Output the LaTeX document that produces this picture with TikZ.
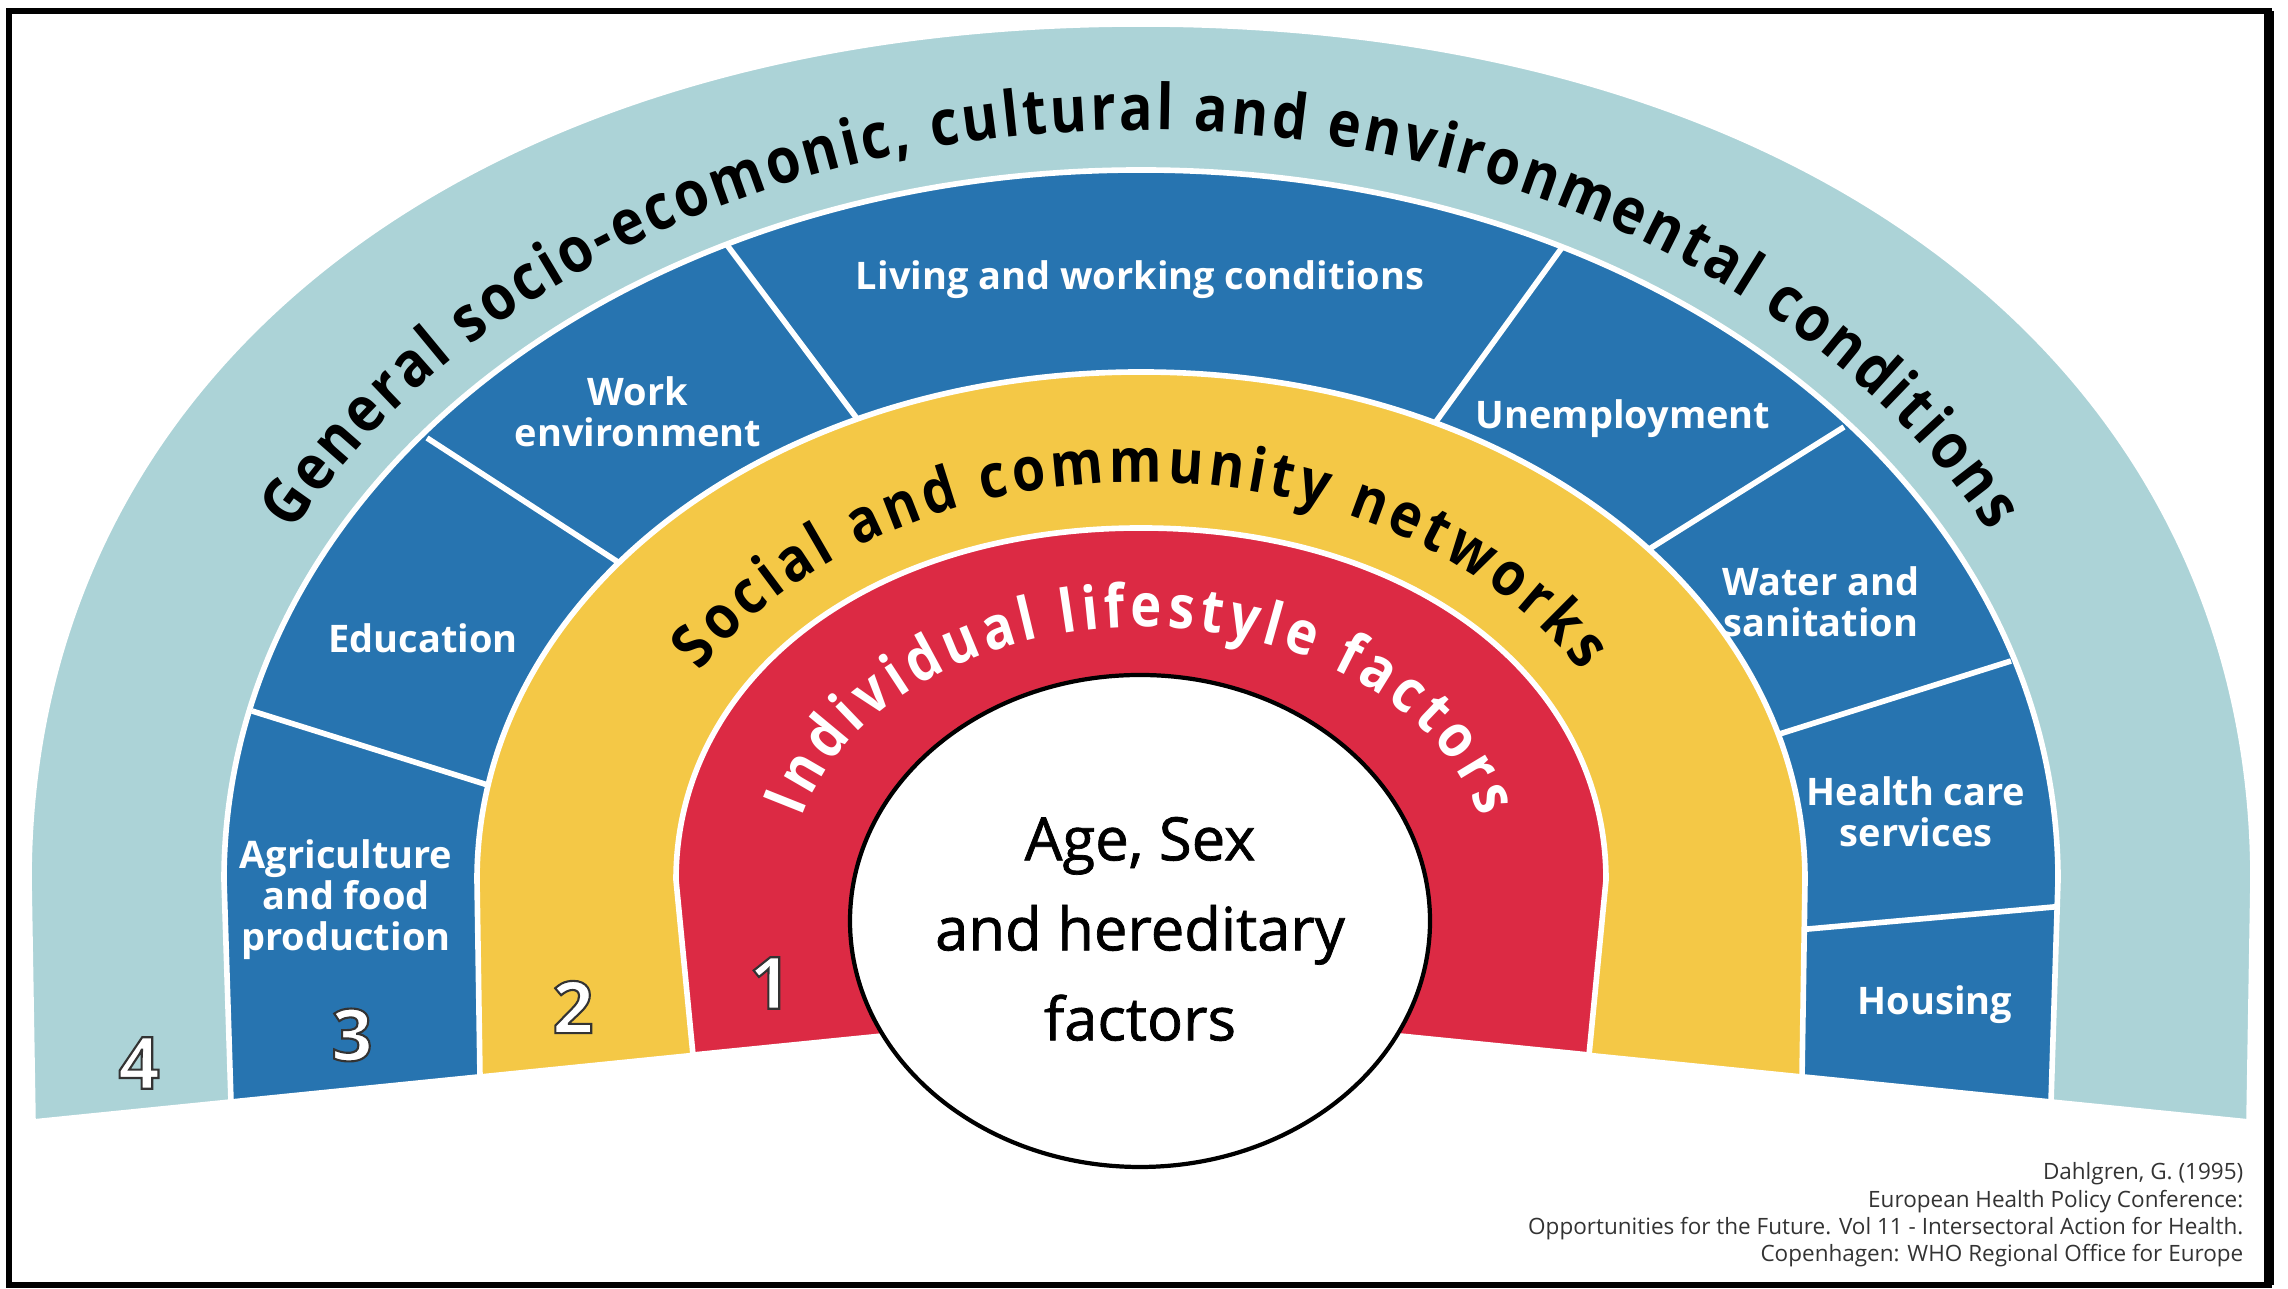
\documentclass[tikz,border=0pt]{standalone}
\usepackage{fontspec}
\setmainfont{Open Sans}
\newfontfamily\arcfont[FakeStretch=0.88]{Open Sans}
\newfontfamily\agefont[FakeBold=1.2]{Open Sans}
\usetikzlibrary{decorations.text}
\definecolor{outerband}{RGB}{172,211,215}
\definecolor{livingband}{RGB}{39,116,176}
\definecolor{socialband}{RGB}{244,200,70}
\definecolor{lifestyleband}{RGB}{220,42,68}
\newcommand{\outlinedigit}[1]{\special{pdf:literal direct 2 Tr 0.6 w 0.2 G}#1\special{pdf:literal direct 0 Tr}}

\begin{document}
\begin{tikzpicture}[x=0.01cm,y=0.01cm]

    \tikzset{
      band/.style={
        draw=white,
        line width=1.6pt,
      },
      divider/.style={
        draw=white,
        line width=1.6pt,
      },
      boxlabel/.style={
        text=white,
        align=center,
        inner sep=0pt,
        font=\bfseries\fontsize{10.8}{11.7}\selectfont,
      },
      layernum/.style={
        text=white,
        inner sep=0pt,
        font=\bfseries\fontsize{20.5}{20.5}\selectfont,
      },
    }
    \useasboundingbox (0,0) rectangle (2288,1289);

	 \filldraw[band,fill=outerband] (33,167) -- (29,409) .. controls (29,923) and (474,1265) .. (1141,1265) .. controls (1808,1265) and (2253,923) .. (2253,409) -- (2249,167) -- (1141,279) -- cycle;

	 \path[decorate,decoration={text along path,text align=fit to path,text={|\arcfont\bfseries\fontsize{18}{20}\selectfont|General socio-ecomonic, cultural and environmental conditions}}] (293,757) arc[start angle=152.3,end angle=27.7,x radius=958,y radius=751];

	 \filldraw[band,fill=livingband] (231,187) -- (224,409) .. controls (224,807) and (628,1119) .. (1141,1119) .. controls (1654,1119) and (2058,807) .. (2058,409) -- (2051,187) -- (1141,279) -- cycle;

	 \begin{scope}
	 \clip (231,187) -- (224,409) .. controls (224,807) and (628,1119) .. (1141,1119) .. controls (1654,1119) and (2058,807) .. (2058,409) -- (2051,187) -- (1141,279) -- cycle;
	 \draw[divider] (252,578) -- (510,497);
	 \draw[divider] (427,851) -- (644,710);
	 \draw[divider] (721,1052) -- (870,853);
	 \draw[divider] (1566,1047) -- (1422,848);
	 \draw[divider] (1844,862) -- (1627,726);
	 \draw[divider] (2011,628) -- (1751,546);
	 \draw[divider] (2076,384) -- (1797,359);
	 \end{scope}

	 \filldraw[band,fill=socialband] (480,212) -- (477,409) .. controls (477,694) and (769,917) .. (1141,917) .. controls (1513,917) and (1805,694) .. (1805,409) -- (1802,212) -- (1141,279) -- cycle;

	 \path[decorate,decoration={text along path,text align=fit to path,text={|\arcfont\bfseries\fontsize{17.3}{20}\selectfont|Social and community networks}}] (700,617) arc[start angle=148.5,end angle=31.5,x radius=517,y radius=398];

	 \filldraw[band,fill=lifestyleband] (693,234) -- (676,409) .. controls (676,613) and (871,761) .. (1141,761) .. controls (1411,761) and (1606,613) .. (1606,409) -- (1589,234) -- (1141,279) -- cycle;

	 \path[decorate,decoration={text along path,text align=fit to path,text color=white,text={|\arcfont\bfseries\fontsize{17}{20}\selectfont|Individual lifestyle factors}}] (802,471) arc[start angle=165.8,end angle=14.2,x radius=350,y radius=253];

	 \filldraw[fill=white,draw=black,line width=1.2pt] (1140,368) ellipse [x radius=290,y radius=246];

	 \node[boxlabel] (living) at (1140,1009) {Living and working conditions};
	 \node[boxlabel] (work) at (638,877) {Work\\environment};
	 \node[boxlabel] (education) at (423,651) {Education};
	 \node[boxlabel] (agriculture) at (346,389) {Agriculture\\and food\\production};
	 \node[boxlabel] (unemployment) at (1623,870) {Unemployment};
	 \node[boxlabel] (water) at (1821,687) {Water and\\sanitation};
	 \node[boxlabel] (health) at (1916,477) {Health care\\services};
	 \node[boxlabel] (housing) at (1935,284) {Housing};

	 \node[align=center,inner sep=0pt,font=\agefont\fontsize{17}{25.6}\selectfont] (age) at (1140,360) {Age, Sex\\and hereditary\\factors};

	 \node[layernum] (four) at (139,226) {\outlinedigit{4}};
	 \node[layernum] (three) at (352,254) {\outlinedigit{3}};
	 \node[layernum] (two) at (573,282) {\outlinedigit{2}};
	 \node[layernum] (one) at (770,306) {\outlinedigit{1}};

	 \node[anchor=east,align=right,inner sep=0pt,text=black!80,font=\fontsize{6.4}{7.8}\selectfont] (source) at (2244,74) {Dahlgren, G. (1995)\\European Health Policy Conference:\\Opportunities for the Future. Vol 11 - Intersectoral Action for Health.\\Copenhagen: WHO Regional Office for Europe};

	 \draw[line width=1.7pt] (9,4) rectangle (2269,1278);
	 \draw[line width=2.8pt] (2269,4) -- (2269,1278);

\end{tikzpicture}
\end{document}
